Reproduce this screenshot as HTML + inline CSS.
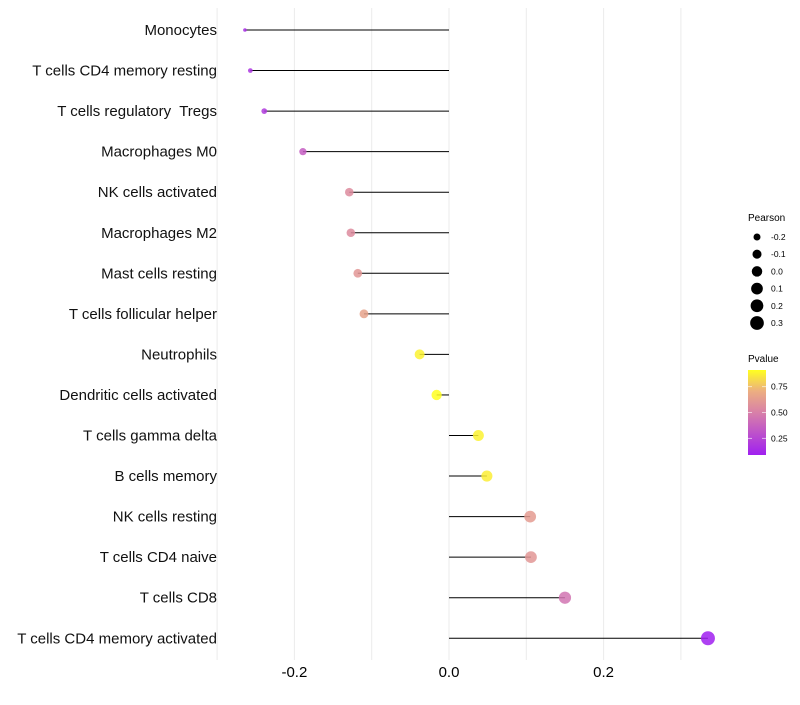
<!DOCTYPE html>
<html><head><meta charset="utf-8"><style>
body{margin:0;background:#fff;font-family:"Liberation Sans",sans-serif}
text{white-space:pre}
</style></head><body>
<svg id="chart" width="800" height="700" font-family="Liberation Sans, sans-serif"></svg>
<script>
const categories=["Monocytes","T cells CD4 memory resting","T cells regulatory  Tregs","Macrophages M0","NK cells activated","Macrophages M2","Mast cells resting","T cells follicular helper","Neutrophils","Dendritic cells activated","T cells gamma delta","B cells memory","NK cells resting","T cells CD4 naive","T cells CD8","T cells CD4 memory activated"];
const pearson=[-0.264,-0.257,-0.239,-0.189,-0.129,-0.127,-0.118,-0.110,-0.038,-0.016,0.038,0.049,0.105,0.106,0.150,0.335];
const pvalue=[0.15,0.18,0.2,0.35,0.55,0.55,0.6,0.65,0.88,0.91,0.88,0.87,0.62,0.6,0.45,0.09];
const xTicks=[-0.2,0.0,0.2];
const xTickLabels=["-0.2","0.0","0.2"];
const gridVals=[-0.3,-0.2,-0.1,0,0.1,0.2,0.3];
const sizeLegend=[-0.2,-0.1,0.0,0.1,0.2,0.3];
const sizeLegendLabels=["-0.2","-0.1","0.0","0.1","0.2","0.3"];
const pLegend=[0.25,0.5,0.75];
const pLegendLabels=["0.25","0.50","0.75"];

const NS="http://www.w3.org/2000/svg";
const svg=document.getElementById('chart');
const X=v=>449+v*773;
const Y=i=>30+i*40.55;
const R=v=>1.8+5.2*Math.sqrt(Math.max(0,(v+0.264)/0.6));
function lerp(a,b,t){return a.map((x,i)=>Math.round(x+(b[i]-x)*t));}
const stops=[[0.09,[160,32,240]],[0.5,[216,128,168]],[0.75,[240,184,120]],[0.91,[255,255,32]]];
function col(p){p=Math.max(0.09,Math.min(0.91,p));for(let i=0;i<stops.length-1;i++){if(p<=stops[i+1][0]){const t=(p-stops[i][0])/(stops[i+1][0]-stops[i][0]);const c=lerp(stops[i][1],stops[i+1][1],t);return `rgb(${c[0]},${c[1]},${c[2]})`;}}return 'rgb(255,255,32)';}
function el(tag,attrs,parent){const e=document.createElementNS(NS,tag);for(const k in attrs)e.setAttribute(k,attrs[k]);(parent||svg).appendChild(e);return e;}

gridVals.forEach(v=>{
  const g=el('line',{x1:X(v),x2:X(v),y1:8,y2:660,stroke:'#ebebeb','stroke-width':1});
  
  
});
xTicks.forEach((v,i)=>{
  const t=el('text',{x:X(v),y:677,'text-anchor':'middle','font-size':15,fill:'#000'});
  t.textContent=xTickLabels[i];
  
  
});
categories.forEach((c,i)=>{
  const t=el('text',{x:217,y:Y(i)+5,'text-anchor':'end','font-size':15,fill:'#111'});
  t.textContent=c;
  
  
  const l=el('line',{x1:X(0),x2:X(pearson[i]),y1:Y(i),y2:Y(i),stroke:'#000','stroke-width':1});
  
  
  const p=el('circle',{cx:X(pearson[i]),cy:Y(i),r:R(pearson[i]),fill:col(pvalue[i]),'fill-opacity':0.85});
  
  
});
const lt=el('text',{x:748,y:221,'font-size':10});lt.textContent='Pearson';


sizeLegend.forEach((v,i)=>{
  const cy=237+i*17.2;
  const c=el('circle',{cx:757,cy:cy,r:R(v),fill:'#000'});
  
  
  const t=el('text',{x:771,y:cy+3,'font-size':8.5});t.textContent=sizeLegendLabels[i];
  
  
});
const pt=el('text',{x:748,y:362,'font-size':10});pt.textContent='Pvalue';


const defs=el('defs',{});
const gr=el('linearGradient',{id:'pg',x1:0,y1:1,x2:0,y2:0},defs);
[0,0.5,0.75,1].forEach(o=>{const p=0.09+o*0.82;el('stop',{offset:o,'stop-color':col(p)},gr);});
const bar=el('rect',{x:748,y:370,width:18,height:85,fill:'url(#pg)'});


pLegend.forEach((v,i)=>{
  const y=455-(v-0.09)/0.82*85;
  el('line',{x1:748,x2:752,y1:y,y2:y,stroke:'#fff','stroke-opacity':0.6});
  el('line',{x1:762,x2:766,y1:y,y2:y,stroke:'#fff','stroke-opacity':0.6});
  const t=el('text',{x:771,y:y+3,'font-size':8.5});t.textContent=pLegendLabels[i];
  
  
});
</script>
</body></html>
